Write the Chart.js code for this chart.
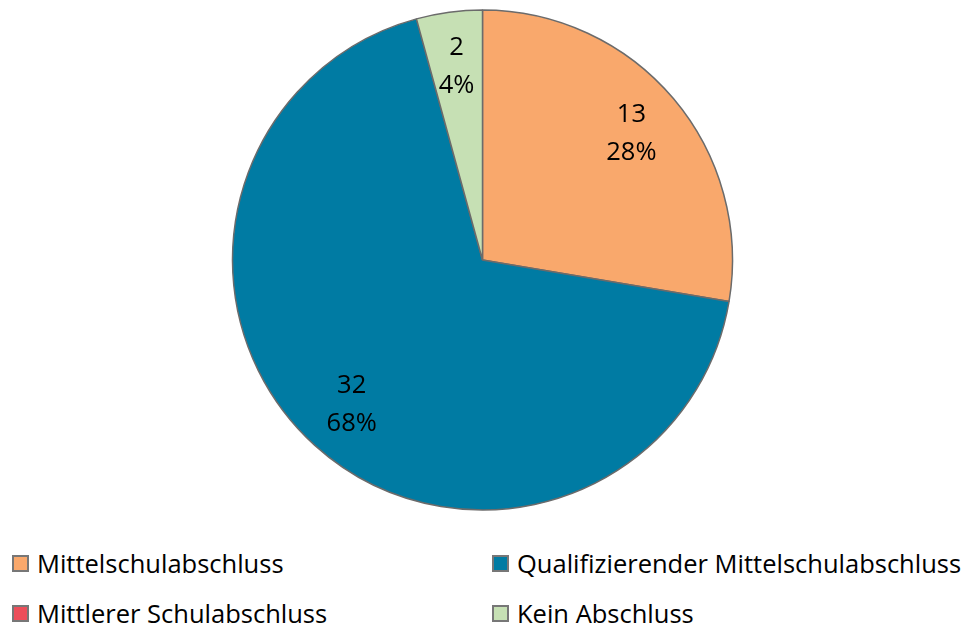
<!DOCTYPE html>
<html>
<head>
<meta charset="utf-8">
<script src="https://cdn.jsdelivr.net/npm/chart.js@4"></script>
<style>
  html, body { margin: 0; padding: 0; background: #fff; }
  body { width: 965px; height: 628px; position: relative; overflow: hidden; font-family: "Open Sans", sans-serif; }
  #wrap { position: absolute; left: 0; top: 0; width: 965px; height: 520px; }
  .leg { position: absolute; display: flex; align-items: center; font-size: 25.5px; color: #000; white-space: nowrap; }
  .sw { width: 13px; height: 13px; border: 2px solid #777; margin-right: 8px; box-sizing: content-box; }
</style>
</head>
<body>
<div id="wrap"><canvas id="c"></canvas></div>
<div id="legend"></div>
<script>
const categories = ["Mittelschulabschluss", "Qualifizierender Mittelschulabschluss", "Mittlerer Schulabschluss", "Kein Abschluss"];
const values = [13, 32, 0, 2];
const percentLabels = ["28%", "68%", "0%", "4%"];
const colors = ["#F9A86C", "#007BA3", "#EC4E5A", "#C6E0B4"];

const labelPlugin = {
  id: 'sliceLabels',
  afterDatasetsDraw(chart) {
    const ctx = chart.ctx;
    const meta = chart.getDatasetMeta(0);
    ctx.save();
    ctx.font = '25.5px "Open Sans", sans-serif';
    ctx.fillStyle = '#000';
    ctx.textAlign = 'center';
    ctx.textBaseline = 'middle';
    meta.data.forEach((arc, i) => {
      if (!values[i]) return;
      const mid = (arc.startAngle + arc.endAngle) / 2;
      const r = arc.outerRadius * 0.78;
      const x = arc.x + Math.cos(mid) * r;
      const y = arc.y + Math.sin(mid) * r;
      ctx.fillText(String(values[i]), x, y - 19);
      ctx.fillText(percentLabels[i], x, y + 19);
    });
    ctx.restore();
  }
};

new Chart(document.getElementById('c'), {
  type: 'pie',
  data: {
    labels: categories,
    datasets: [{
      data: values,
      backgroundColor: colors,
      borderColor: '#6b6b6b',
      borderWidth: 1.5
    }]
  },
  options: {
    responsive: true,
    maintainAspectRatio: false,
    animation: false,
    radius: 250,
    layout: { padding: { top: 10, bottom: 10 } },
    plugins: { legend: { display: false }, tooltip: { enabled: false } }
  },
  plugins: [labelPlugin]
});

const legendPos = [[12, 563], [492, 563], [12, 613], [492, 613]];
const legend = document.getElementById('legend');
categories.forEach((name, i) => {
  const d = document.createElement('div');
  d.className = 'leg';
  d.style.left = legendPos[i][0] + 'px';
  d.style.top = (legendPos[i][1] - 16) + 'px';
  d.style.height = '32px';
  const s = document.createElement('span');
  s.className = 'sw';
  s.style.background = colors[i];
  const t = document.createElement('span');
  t.textContent = name;
  d.appendChild(s); d.appendChild(t);
  legend.appendChild(d);
});
</script>
</body>
</html>
